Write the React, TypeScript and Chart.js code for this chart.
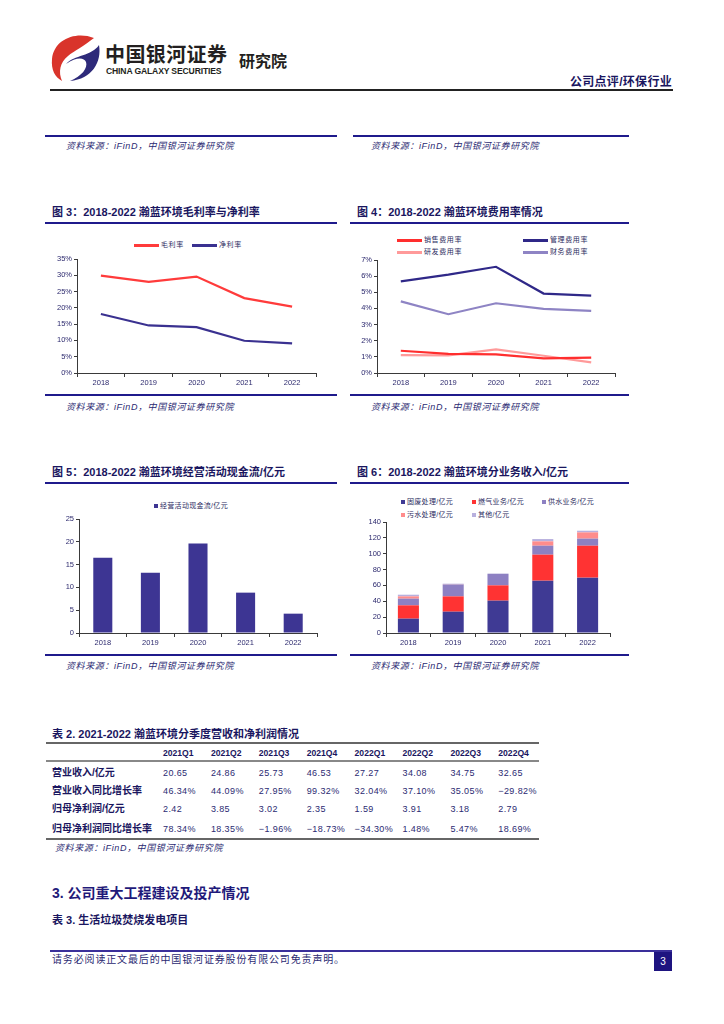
import React, { useEffect, useRef } from 'react';
import { Chart, registerables } from 'chart.js';

Chart.register(...registerables);

// ---------- data ----------
const years = ['2018', '2019', '2020', '2021', '2022'];

const grossMargin = [29.9, 28.0, 29.6, 23.0, 20.4];
const netMargin = [18.1, 14.6, 14.1, 9.9, 9.1];

const sellingRate = [1.38, 1.19, 1.15, 0.91, 0.95];
const adminRate = [5.68, 6.09, 6.58, 4.92, 4.79];
const rdRate = [1.11, 1.09, 1.46, 1.07, 0.66];
const financeRate = [4.44, 3.64, 4.32, 3.97, 3.85];

const operatingCashFlow = [16.5, 13.2, 19.6, 8.85, 4.24];

const solidWaste = [18.1, 26.9, 40.8, 66.0, 69.8];
const gasBusiness = [16.8, 19.3, 19.3, 32.8, 40.3];
const waterSupply = [8.4, 15.0, 14.7, 11.3, 8.9];
const sewage = [2.9, 0.3, 0.0, 5.5, 7.9];
const others = [2.1, 0.7, 0.0, 2.9, 2.1];

const quarters = ['2021Q1', '2021Q2', '2021Q3', '2021Q4', '2022Q1', '2022Q2', '2022Q3', '2022Q4'];
const rowLabels = ['营业收入/亿元', '营业收入同比增长率', '归母净利润/亿元', '归母净利润同比增长率'];
const revenue = ['20.65', '24.86', '25.73', '46.53', '27.27', '34.08', '34.75', '32.65'];
const revenueYoY = ['46.34%', '44.09%', '27.95%', '99.32%', '32.04%', '37.10%', '35.05%', '-29.82%'];
const netProfit = ['2.42', '3.85', '3.02', '2.35', '1.59', '3.91', '3.18', '2.79'];
const netProfitYoY = ['78.34%', '18.35%', '-1.96%', '-18.73%', '-34.30%', '1.48%', '5.47%', '18.69%'];

// ---------- styles ----------
const FONT = '"Liberation Sans", Arial, "Noto Sans CJK SC", sans-serif';
const TITLE = '#1a1660';
const TEXT = '#2b2a72';
const RULE = '#1f1a8c';
const AXIS = '#3a3a3a';
const TICK = '#2d2a6e';
const tickFont = { family: FONT, size: 7.5 };

const RED = '#ff3b3b';
const NAVY = '#3a3190';
const C_SELL = '#ff2e2e';
const C_ADMIN = '#2f2888';
const C_RD = '#ff9a9a';
const C_FIN = '#8e84c4';
const C_BAR = '#3d3593';
const C_SOLID = '#3f3a94';
const C_GAS = '#ff3333';
const C_WATER = '#8d80c2';
const C_SEWAGE = '#ff8c8c';
const C_OTHER = '#b8b0de';

function xScale(height: number, stacked = false) {
  return {
    type: 'category',
    offset: true,
    stacked,
    border: { display: true, color: AXIS, width: 1 },
    grid: { display: true, offset: true, drawOnChartArea: false, drawTicks: true, tickLength: 4, color: AXIS, lineWidth: 1 },
    ticks: { color: TICK, font: tickFont, padding: 1, maxRotation: 0, autoSkip: false },
    afterFit: (s: any) => { s.height = height; },
  };
}

function yScale(width: number, max: number, step: number, suffix: string, stacked = false) {
  return {
    min: 0,
    max,
    stacked,
    border: { display: true, color: AXIS, width: 1 },
    grid: { drawOnChartArea: false, drawTicks: true, tickLength: 3, color: AXIS, lineWidth: 1 },
    ticks: { stepSize: step, color: TICK, font: tickFont, padding: 2, callback: (v: any) => v + suffix },
    afterFit: (s: any) => { s.width = width; },
  };
}

const baseOptions = (padding: any) => ({
  responsive: false,
  animation: false,
  layout: { padding },
  plugins: { legend: { display: false }, tooltip: { enabled: false } },
});

function lineDs(label: string, data: number[], color: string) {
  return { label, data, borderColor: color, backgroundColor: color, borderWidth: 2.2, pointRadius: 0, tension: 0, fill: false };
}

// ---------- small layout helpers ----------
function T(props: { x?: number; right?: number; y: number; size: number; weight?: number | string; color?: string; italic?: boolean; ls?: number; children: any; family?: string }) {
  const { x, right, y, size, weight = 400, color = TEXT, italic, ls = 0, children, family = FONT } = props;
  const lh = Math.round(size * 1.4);
  const style: any = {
    position: 'absolute',
    top: y - lh / 2,
    lineHeight: lh + 'px',
    fontSize: size,
    fontWeight: weight,
    color,
    fontFamily: family,
    whiteSpace: 'nowrap',
    letterSpacing: ls,
    fontStyle: italic ? 'italic' : 'normal',
  };
  if (x !== undefined) style.left = x;
  if (right !== undefined) style.right = right;
  return <div style={style}>{children}</div>;
}

function HLine({ x1, x2, y, h = 2, color = RULE }: { x1: number; x2: number; y: number; h?: number; color?: string }) {
  return <div style={{ position: 'absolute', left: x1, top: y - h / 2, width: x2 - x1, height: h, background: color }} />;
}

function LineKey({ x, y, color, label }: { x: number; y: number; color: string; label: string }) {
  return (
    <>
      <div style={{ position: 'absolute', left: x, top: y - 1.5, width: 25, height: 3, background: color }} />
      <T x={x + 27} y={y} size={7} ls={0.6} color="#2a2a5e">{label}</T>
    </>
  );
}

function BoxKey({ x, y, color, label }: { x: number; y: number; color: string; label: string }) {
  return (
    <>
      <div style={{ position: 'absolute', left: x, top: y - 2, width: 4, height: 4, background: color }} />
      <T x={x + 6} y={y} size={7} ls={0.3} color="#2a2a5e">{label}</T>
    </>
  );
}

const SOURCE = '资料来源：iFinD，中国银河证券研究院';

export default function App() {
  const r3 = useRef<HTMLCanvasElement>(null);
  const r4 = useRef<HTMLCanvasElement>(null);
  const r5 = useRef<HTMLCanvasElement>(null);
  const r6 = useRef<HTMLCanvasElement>(null);

  useEffect(() => {
    const charts: Chart[] = [];
    charts.push(
      new Chart(r3.current!, {
        type: 'line',
        data: { labels: years, datasets: [lineDs('毛利率', grossMargin, RED), lineDs('净利率', netMargin, NAVY)] },
        options: { ...baseOptions({ top: 9, right: 21, left: 0, bottom: 0 }), scales: { x: xScale(19), y: yScale(32, 35, 5, '%') } } as any,
      })
    );
    charts.push(
      new Chart(r4.current!, {
        type: 'line',
        data: {
          labels: years,
          datasets: [
            lineDs('销售费用率', sellingRate, C_SELL),
            lineDs('管理费用率', adminRate, C_ADMIN),
            lineDs('研发费用率', rdRate, C_RD),
            lineDs('财务费用率', financeRate, C_FIN),
          ],
        },
        options: { ...baseOptions({ top: 10, right: 14, left: 0, bottom: 0 }), scales: { x: xScale(19), y: yScale(27, 7, 1, '%') } } as any,
      })
    );
    charts.push(
      new Chart(r5.current!, {
        type: 'bar',
        data: {
          labels: years,
          datasets: [{ label: '经营活动现金流/亿元', data: operatingCashFlow, backgroundColor: C_BAR, barPercentage: 0.4, categoryPercentage: 1 }],
        },
        options: { ...baseOptions({ top: 9, right: 20, left: 0, bottom: 0 }), scales: { x: xScale(19), y: yScale(34, 25, 5, '') } } as any,
      })
    );
    const stackDs = (label: string, data: number[], color: string) => ({ label, data, backgroundColor: color, barPercentage: 0.47, categoryPercentage: 1 });
    charts.push(
      new Chart(r6.current!, {
        type: 'bar',
        data: {
          labels: years,
          datasets: [
            stackDs('固废处理/亿元', solidWaste, C_SOLID),
            stackDs('燃气业务/亿元', gasBusiness, C_GAS),
            stackDs('供水业务/亿元', waterSupply, C_WATER),
            stackDs('污水处理/亿元', sewage, C_SEWAGE),
            stackDs('其他/亿元', others, C_OTHER),
          ],
        },
        options: { ...baseOptions({ top: 12, right: 19, left: 0, bottom: 0 }), scales: { x: xScale(19, true), y: yScale(36, 140, 20, '', true) } } as any,
      })
    );
    return () => charts.forEach((c) => c.destroy());
  }, []);

  const tableRows = [revenue, revenueYoY, netProfit, netProfitYoY];
  const rowYs = [773, 791, 809, 829];

  return (
    <div style={{ position: 'absolute', left: 0, top: 0, width: 724, height: 1024, background: '#fff', overflow: 'hidden', fontFamily: FONT }}>
      {/* header logo */}
      <svg style={{ position: 'absolute', left: 40, top: 30 }} width={70} height={60} viewBox="40 30 70 60">
        <path d="M 94 38 C 76 31, 54 39, 52 59 C 51 70, 55 77, 62 81 C 58 72, 60 62, 68 56 C 74 51, 84 46, 94 38 Z" fill="#d9342b" />
        <path d="M 99 45 C 102 62, 92 79, 70 81 C 82 76, 88 68, 86 62 C 84 57, 76 57, 66 64 C 74 55, 92 56, 99 45 Z" fill="#2e2a7a" />
      </svg>
      <T x={105} y={54} size={20} weight={700} color="#231f20" ls={0.4} family='"Noto Sans CJK SC", sans-serif'>中国银河证券</T>
      <T x={106} y={71} size={8.6} weight={700} color="#231f20" ls={-0.15}>CHINA GALAXY SECURITIES</T>
      <T x={239} y={60} size={16} weight={700} color="#231f20" family='"Noto Sans CJK SC", sans-serif'>研究院</T>
      <T right={52} y={82} size={12} weight={700} color={TITLE} ls={0.3}>公司点评/环保行业</T>
      <HLine x1={50} x2={673} y={90} h={1.6} color="#222" />

      {/* previous charts' sources */}
      <HLine x1={45} x2={337} y={136} h={2.5} />
      <HLine x1={353} x2={629} y={136} h={2.5} />
      <T x={66} y={146} size={9} italic ls={0.6}>{SOURCE}</T>
      <T x={371} y={146} size={9} italic ls={0.6}>{SOURCE}</T>

      {/* chart 3 */}
      <T x={52} y={212} size={11} weight={700} color={TITLE}>图 3：2018-2022 瀚蓝环境毛利率与净利率</T>
      <HLine x1={45} x2={337} y={223} h={2.5} />
      <LineKey x={134} y={245} color={RED} label="毛利率" />
      <LineKey x={192} y={245} color={NAVY} label="净利率" />
      <canvas ref={r3} width={292} height={142} style={{ position: 'absolute', left: 45, top: 250 }} />
      <HLine x1={45} x2={337} y={395} h={2.5} />
      <T x={66} y={407} size={9} italic ls={0.6}>{SOURCE}</T>

      {/* chart 4 */}
      <T x={357} y={212} size={11} weight={700} color={TITLE}>图 4：2018-2022 瀚蓝环境费用率情况</T>
      <HLine x1={350} x2={629} y={223} h={2.5} />
      <LineKey x={397} y={240} color={C_SELL} label="销售费用率" />
      <LineKey x={523} y={240} color={C_ADMIN} label="管理费用率" />
      <LineKey x={397} y={252} color={C_RD} label="研发费用率" />
      <LineKey x={523} y={252} color={C_FIN} label="财务费用率" />
      <canvas ref={r4} width={279} height={142} style={{ position: 'absolute', left: 350, top: 250 }} />
      <HLine x1={350} x2={629} y={395} h={2.5} />
      <T x={371} y={407} size={9} italic ls={0.6}>{SOURCE}</T>

      {/* chart 5 */}
      <T x={52} y={472} size={11} weight={700} color={TITLE}>图 5：2018-2022 瀚蓝环境经营活动现金流/亿元</T>
      <HLine x1={45} x2={337} y={483} h={2.5} />
      <BoxKey x={154} y={506} color={C_BAR} label="经营活动现金流/亿元" />
      <canvas ref={r5} width={292} height={142} style={{ position: 'absolute', left: 45, top: 510 }} />
      <HLine x1={45} x2={337} y={655} h={2.5} />
      <T x={66} y={666} size={9} italic ls={0.6}>{SOURCE}</T>

      {/* chart 6 */}
      <T x={357} y={472} size={11} weight={700} color={TITLE}>图 6：2018-2022 瀚蓝环境分业务收入/亿元</T>
      <HLine x1={350} x2={629} y={483} h={2.5} />
      <BoxKey x={401} y={502} color={C_SOLID} label="固废处理/亿元" />
      <BoxKey x={472} y={502} color={C_GAS} label="燃气业务/亿元" />
      <BoxKey x={542} y={502} color={C_WATER} label="供水业务/亿元" />
      <BoxKey x={401} y={515} color={C_SEWAGE} label="污水处理/亿元" />
      <BoxKey x={472} y={515} color={C_OTHER} label="其他/亿元" />
      <canvas ref={r6} width={279} height={142} style={{ position: 'absolute', left: 350, top: 510 }} />
      <HLine x1={350} x2={629} y={655} h={2.5} />
      <T x={371} y={666} size={9} italic ls={0.6}>{SOURCE}</T>

      {/* table 2 */}
      <T x={52} y={734} size={11} weight={700} color={TITLE}>表 2. 2021-2022 瀚蓝环境分季度营收和净利润情况</T>
      <HLine x1={46} x2={539} y={743} h={1.5} color="#666" />
      {quarters.map((q, i) => (
        <T key={q} x={163 + i * 47.9} y={753} size={8.6} weight={700} color={TITLE}>{q}</T>
      ))}
      <HLine x1={46} x2={539} y={761} h={2} color="#888" />
      {rowLabels.map((lab, r) => (
        <T key={lab} x={52} y={rowYs[r]} size={10} weight={700} color={TITLE}>{lab}</T>
      ))}
      {tableRows.map((row, r) =>
        row.map((v, i) => (
          <T key={r + '-' + i} x={163 + i * 47.9} y={rowYs[r]} size={9} ls={0.4} color={TEXT}>{v.replace('-', '−')}</T>
        ))
      )}
      <HLine x1={46} x2={539} y={839} h={1.5} color="#666" />
      <T x={55} y={848} size={9} italic ls={0.6}>{SOURCE}</T>

      {/* section 3 */}
      <T x={52} y={893} size={14} weight={700} color="#1f1a7a">3. 公司重大工程建设及投产情况</T>
      <T x={52} y={920} size={11} weight={700} color={TITLE}>表 3. 生活垃圾焚烧发电项目</T>

      {/* footer */}
      <HLine x1={50} x2={672} y={951} h={2} color="#3a2f9a" />
      <T x={52} y={960} size={10} ls={0.85} color={TEXT}>请务必阅读正文最后的中国银河证券股份有限公司免责声明。</T>
      <div style={{ position: 'absolute', left: 654, top: 952, width: 18, height: 19, background: '#1e1480', color: '#fff', fontFamily: FONT, fontSize: 10, lineHeight: '19px', textAlign: 'center' }}>3</div>
    </div>
  );
}
